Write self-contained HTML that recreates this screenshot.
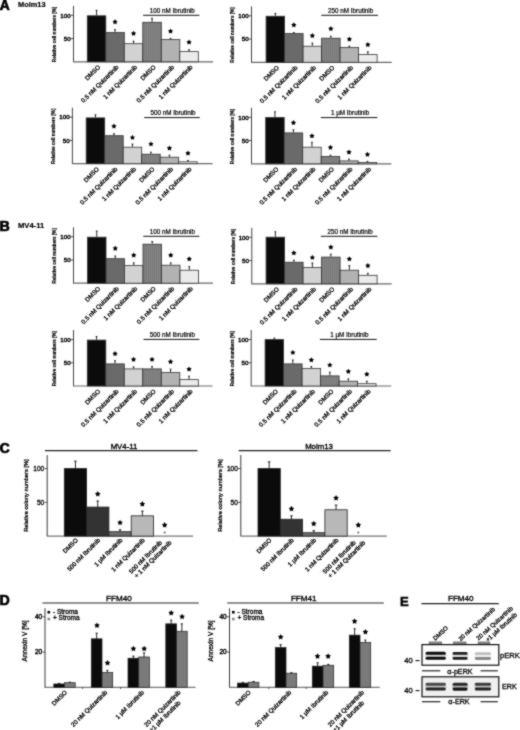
<!DOCTYPE html>
<html><head><meta charset="utf-8"><style>
html,body{margin:0;padding:0;background:#fff;}
body{width:520px;height:730px;overflow:hidden;}
svg{display:block;font-family:"Liberation Sans", sans-serif;filter:grayscale(1);}
</style></head><body>
<svg width="520" height="730" viewBox="0 0 520 730">
<defs>
<pattern id="hatch" width="2" height="3" patternUnits="userSpaceOnUse">
<rect width="3" height="3" fill="#848484"/>
<rect width="1" height="3" fill="#7a7a7a"/>
</pattern>
<filter id="soft" x="0" y="0" width="520" height="730" filterUnits="userSpaceOnUse" color-interpolation-filters="sRGB"><feConvolveMatrix order="3" kernelMatrix="1 2 1 2 12 2 1 2 1" divisor="24" edgeMode="duplicate"/></filter>
<filter id="blur1" x="-20%" y="-100%" width="140%" height="300%"><feGaussianBlur stdDeviation="0.75"/></filter>
</defs>
<rect width="520" height="730" fill="#fff"/>
<g filter="url(#soft)">
<rect width="520" height="730" fill="#fff"/>
<line x1="73.50" y1="5.80" x2="73.50" y2="61.80" stroke="#444" stroke-width="1.0"/>
<line x1="73.00" y1="61.80" x2="213.00" y2="61.80" stroke="#666" stroke-width="1.2"/>
<line x1="70.90" y1="15.30" x2="73.50" y2="15.30" stroke="#222" stroke-width="0.8"/>
<text x="70.70" y="17.50" font-size="6.2" text-anchor="end" fill="#000" stroke="#000" stroke-width="0.4">100</text>
<line x1="70.90" y1="38.55" x2="73.50" y2="38.55" stroke="#222" stroke-width="0.8"/>
<text x="70.70" y="40.75" font-size="6.2" text-anchor="end" fill="#000" stroke="#000" stroke-width="0.4">50</text>
<text x="56.50" y="34.40" font-size="5.1" text-anchor="middle" font-weight="bold" transform="rotate(-90 56.50 34.40)" fill="#000" textLength="55.5" lengthAdjust="spacingAndGlyphs" stroke="#000" stroke-width="0.2">Relative cell numbers [%]</text>
<rect x="87.30" y="15.80" width="18.50" height="46.00" fill="#0b0b0b" stroke="#333" stroke-width="0.8"/>
<rect x="105.80" y="32.50" width="18.50" height="29.30" fill="#6a6a6a" stroke="#333" stroke-width="0.8"/>
<rect x="124.30" y="43.70" width="18.50" height="18.10" fill="#d2d2d2" stroke="#333" stroke-width="0.8"/>
<rect x="142.80" y="22.30" width="18.50" height="39.50" fill="url(#hatch)" stroke="#333" stroke-width="0.8"/>
<rect x="161.30" y="39.50" width="18.50" height="22.30" fill="#b2b2b2" stroke="#333" stroke-width="0.8"/>
<rect x="179.80" y="51.60" width="18.50" height="10.20" fill="#ebebeb" stroke="#333" stroke-width="0.8"/>
<line x1="96.55" y1="15.40" x2="96.55" y2="10.30" stroke="#111" stroke-width="0.9"/>
<line x1="95.65" y1="10.30" x2="97.45" y2="10.30" stroke="#111" stroke-width="0.9"/>
<text x="100.55" y="67.60" font-size="6.2" text-anchor="end" transform="rotate(-45 100.55 67.60)" fill="#000" stroke="#000" stroke-width="0.3">DMSO</text>
<line x1="115.05" y1="32.10" x2="115.05" y2="29.60" stroke="#111" stroke-width="0.9"/>
<line x1="114.15" y1="29.60" x2="115.95" y2="29.60" stroke="#111" stroke-width="0.9"/>
<polygon points="115.05,19.10 115.92,20.70 117.71,21.03 116.46,22.36 116.70,24.17 115.05,23.38 113.40,24.17 113.64,22.36 112.39,21.03 114.18,20.70" fill="#000"/>
<text x="119.05" y="67.60" font-size="6.2" text-anchor="end" transform="rotate(-45 119.05 67.60)" fill="#000" stroke="#000" stroke-width="0.3">0.5 nM Quizartinib</text>
<line x1="133.55" y1="43.30" x2="133.55" y2="41.20" stroke="#111" stroke-width="0.9"/>
<line x1="132.65" y1="41.20" x2="134.45" y2="41.20" stroke="#111" stroke-width="0.9"/>
<polygon points="133.55,30.70 134.42,32.30 136.21,32.63 134.96,33.96 135.20,35.77 133.55,34.98 131.90,35.77 132.14,33.96 130.89,32.63 132.68,32.30" fill="#000"/>
<text x="137.55" y="67.60" font-size="6.2" text-anchor="end" transform="rotate(-45 137.55 67.60)" fill="#000" stroke="#000" stroke-width="0.3">1 nM Quizartinib</text>
<line x1="152.05" y1="21.90" x2="152.05" y2="18.30" stroke="#111" stroke-width="0.9"/>
<line x1="151.15" y1="18.30" x2="152.95" y2="18.30" stroke="#111" stroke-width="0.9"/>
<text x="156.05" y="67.60" font-size="6.2" text-anchor="end" transform="rotate(-45 156.05 67.60)" fill="#000" stroke="#000" stroke-width="0.3">DMSO</text>
<line x1="170.55" y1="39.10" x2="170.55" y2="38.50" stroke="#111" stroke-width="0.9"/>
<line x1="169.65" y1="38.50" x2="171.45" y2="38.50" stroke="#111" stroke-width="0.9"/>
<polygon points="170.55,28.50 171.42,30.10 173.21,30.43 171.96,31.76 172.20,33.57 170.55,32.78 168.90,33.57 169.14,31.76 167.89,30.43 169.68,30.10" fill="#000"/>
<text x="174.55" y="67.60" font-size="6.2" text-anchor="end" transform="rotate(-45 174.55 67.60)" fill="#000" stroke="#000" stroke-width="0.3">0.5 nM Quizartinib</text>
<line x1="189.05" y1="51.20" x2="189.05" y2="49.80" stroke="#111" stroke-width="0.9"/>
<line x1="188.15" y1="49.80" x2="189.95" y2="49.80" stroke="#111" stroke-width="0.9"/>
<polygon points="189.05,39.50 189.92,41.10 191.71,41.43 190.46,42.76 190.70,44.57 189.05,43.78 187.40,44.57 187.64,42.76 186.39,41.43 188.18,41.10" fill="#000"/>
<text x="193.05" y="67.60" font-size="6.2" text-anchor="end" transform="rotate(-45 193.05 67.60)" fill="#000" stroke="#000" stroke-width="0.3">1 nM Quizartinib</text>
<line x1="143.10" y1="15.30" x2="199.40" y2="15.30" stroke="#111" stroke-width="1.0"/>
<text x="172.25" y="13.10" font-size="6.3" text-anchor="middle" fill="#000" stroke="#000" stroke-width="0.2">100 nM Ibrutinib</text>
<line x1="251.50" y1="6.30" x2="251.50" y2="62.30" stroke="#444" stroke-width="1.0"/>
<line x1="251.00" y1="62.30" x2="391.70" y2="62.30" stroke="#666" stroke-width="1.2"/>
<line x1="248.90" y1="15.80" x2="251.50" y2="15.80" stroke="#222" stroke-width="0.8"/>
<text x="248.70" y="18.00" font-size="6.2" text-anchor="end" fill="#000" stroke="#000" stroke-width="0.4">100</text>
<line x1="248.90" y1="39.05" x2="251.50" y2="39.05" stroke="#222" stroke-width="0.8"/>
<text x="248.70" y="41.25" font-size="6.2" text-anchor="end" fill="#000" stroke="#000" stroke-width="0.4">50</text>
<text x="234.50" y="34.90" font-size="5.1" text-anchor="middle" font-weight="bold" transform="rotate(-90 234.50 34.90)" fill="#000" textLength="55.5" lengthAdjust="spacingAndGlyphs" stroke="#000" stroke-width="0.2">Relative cell numbers [%]</text>
<rect x="266.10" y="16.25" width="18.50" height="46.05" fill="#0b0b0b" stroke="#333" stroke-width="0.8"/>
<rect x="284.60" y="33.60" width="18.50" height="28.70" fill="#6a6a6a" stroke="#333" stroke-width="0.8"/>
<rect x="303.10" y="46.20" width="18.50" height="16.10" fill="#d2d2d2" stroke="#333" stroke-width="0.8"/>
<rect x="321.60" y="38.20" width="18.50" height="24.10" fill="url(#hatch)" stroke="#333" stroke-width="0.8"/>
<rect x="340.10" y="47.40" width="18.50" height="14.90" fill="#b2b2b2" stroke="#333" stroke-width="0.8"/>
<rect x="358.60" y="54.60" width="18.50" height="7.70" fill="#ebebeb" stroke="#333" stroke-width="0.8"/>
<line x1="275.35" y1="15.85" x2="275.35" y2="13.50" stroke="#111" stroke-width="0.9"/>
<line x1="274.45" y1="13.50" x2="276.25" y2="13.50" stroke="#111" stroke-width="0.9"/>
<text x="279.35" y="68.10" font-size="6.2" text-anchor="end" transform="rotate(-45 279.35 68.10)" fill="#000" stroke="#000" stroke-width="0.3">DMSO</text>
<line x1="293.85" y1="33.20" x2="293.85" y2="32.70" stroke="#111" stroke-width="0.9"/>
<line x1="292.95" y1="32.70" x2="294.75" y2="32.70" stroke="#111" stroke-width="0.9"/>
<polygon points="293.85,22.20 294.72,23.80 296.51,24.13 295.26,25.46 295.50,27.27 293.85,26.48 292.20,27.27 292.44,25.46 291.19,24.13 292.98,23.80" fill="#000"/>
<text x="297.85" y="68.10" font-size="6.2" text-anchor="end" transform="rotate(-45 297.85 68.10)" fill="#000" stroke="#000" stroke-width="0.3">0.5 nM Quizartinib</text>
<line x1="312.35" y1="45.80" x2="312.35" y2="43.10" stroke="#111" stroke-width="0.9"/>
<line x1="311.45" y1="43.10" x2="313.25" y2="43.10" stroke="#111" stroke-width="0.9"/>
<polygon points="312.35,32.90 313.22,34.50 315.01,34.83 313.76,36.16 314.00,37.97 312.35,37.18 310.70,37.97 310.94,36.16 309.69,34.83 311.48,34.50" fill="#000"/>
<text x="316.35" y="68.10" font-size="6.2" text-anchor="end" transform="rotate(-45 316.35 68.10)" fill="#000" stroke="#000" stroke-width="0.3">1 nM Quizartinib</text>
<line x1="330.85" y1="37.80" x2="330.85" y2="36.20" stroke="#111" stroke-width="0.9"/>
<line x1="329.95" y1="36.20" x2="331.75" y2="36.20" stroke="#111" stroke-width="0.9"/>
<polygon points="330.85,26.00 331.72,27.60 333.51,27.93 332.26,29.26 332.50,31.07 330.85,30.28 329.20,31.07 329.44,29.26 328.19,27.93 329.98,27.60" fill="#000"/>
<text x="334.85" y="68.10" font-size="6.2" text-anchor="end" transform="rotate(-45 334.85 68.10)" fill="#000" stroke="#000" stroke-width="0.3">DMSO</text>
<line x1="349.35" y1="47.00" x2="349.35" y2="46.10" stroke="#111" stroke-width="0.9"/>
<line x1="348.45" y1="46.10" x2="350.25" y2="46.10" stroke="#111" stroke-width="0.9"/>
<polygon points="349.35,36.40 350.22,38.00 352.01,38.33 350.76,39.66 351.00,41.47 349.35,40.68 347.70,41.47 347.94,39.66 346.69,38.33 348.48,38.00" fill="#000"/>
<text x="353.35" y="68.10" font-size="6.2" text-anchor="end" transform="rotate(-45 353.35 68.10)" fill="#000" stroke="#000" stroke-width="0.3">0.5 nM Quizartinib</text>
<line x1="367.85" y1="54.20" x2="367.85" y2="51.80" stroke="#111" stroke-width="0.9"/>
<line x1="366.95" y1="51.80" x2="368.75" y2="51.80" stroke="#111" stroke-width="0.9"/>
<polygon points="367.85,41.90 368.72,43.50 370.51,43.83 369.26,45.16 369.50,46.97 367.85,46.18 366.20,46.97 366.44,45.16 365.19,43.83 366.98,43.50" fill="#000"/>
<text x="371.85" y="68.10" font-size="6.2" text-anchor="end" transform="rotate(-45 371.85 68.10)" fill="#000" stroke="#000" stroke-width="0.3">1 nM Quizartinib</text>
<line x1="321.30" y1="15.30" x2="378.00" y2="15.30" stroke="#111" stroke-width="1.0"/>
<text x="350.65" y="13.10" font-size="6.3" text-anchor="middle" fill="#000" stroke="#000" stroke-width="0.2">250 nM Ibrutinib</text>
<line x1="72.40" y1="107.70" x2="72.40" y2="163.70" stroke="#444" stroke-width="1.0"/>
<line x1="71.90" y1="163.70" x2="212.50" y2="163.70" stroke="#666" stroke-width="1.2"/>
<line x1="69.80" y1="117.20" x2="72.40" y2="117.20" stroke="#222" stroke-width="0.8"/>
<text x="69.60" y="119.40" font-size="6.2" text-anchor="end" fill="#000" stroke="#000" stroke-width="0.4">100</text>
<line x1="69.80" y1="140.45" x2="72.40" y2="140.45" stroke="#222" stroke-width="0.8"/>
<text x="69.60" y="142.65" font-size="6.2" text-anchor="end" fill="#000" stroke="#000" stroke-width="0.4">50</text>
<text x="55.40" y="136.30" font-size="5.1" text-anchor="middle" font-weight="bold" transform="rotate(-90 55.40 136.30)" fill="#000" textLength="55.5" lengthAdjust="spacingAndGlyphs" stroke="#000" stroke-width="0.2">Relative cell numbers [%]</text>
<rect x="86.20" y="117.90" width="18.50" height="45.80" fill="#0b0b0b" stroke="#333" stroke-width="0.8"/>
<rect x="104.70" y="135.70" width="18.50" height="28.00" fill="#6a6a6a" stroke="#333" stroke-width="0.8"/>
<rect x="123.20" y="147.20" width="18.50" height="16.50" fill="#d2d2d2" stroke="#333" stroke-width="0.8"/>
<rect x="141.70" y="154.20" width="18.50" height="9.50" fill="url(#hatch)" stroke="#333" stroke-width="0.8"/>
<rect x="160.20" y="157.20" width="18.50" height="6.50" fill="#b2b2b2" stroke="#333" stroke-width="0.8"/>
<rect x="178.70" y="161.80" width="18.50" height="1.90" fill="#ebebeb" stroke="#333" stroke-width="0.8"/>
<line x1="95.45" y1="117.50" x2="95.45" y2="114.80" stroke="#111" stroke-width="0.9"/>
<line x1="94.55" y1="114.80" x2="96.35" y2="114.80" stroke="#111" stroke-width="0.9"/>
<text x="99.45" y="169.50" font-size="6.2" text-anchor="end" transform="rotate(-45 99.45 169.50)" fill="#000" stroke="#000" stroke-width="0.3">DMSO</text>
<line x1="113.95" y1="135.30" x2="113.95" y2="133.70" stroke="#111" stroke-width="0.9"/>
<line x1="113.05" y1="133.70" x2="114.85" y2="133.70" stroke="#111" stroke-width="0.9"/>
<polygon points="113.95,123.50 114.82,125.10 116.61,125.43 115.36,126.76 115.60,128.57 113.95,127.78 112.30,128.57 112.54,126.76 111.29,125.43 113.08,125.10" fill="#000"/>
<text x="117.95" y="169.50" font-size="6.2" text-anchor="end" transform="rotate(-45 117.95 169.50)" fill="#000" stroke="#000" stroke-width="0.3">0.5 nM Quizartinib</text>
<line x1="132.45" y1="146.80" x2="132.45" y2="144.10" stroke="#111" stroke-width="0.9"/>
<line x1="131.55" y1="144.10" x2="133.35" y2="144.10" stroke="#111" stroke-width="0.9"/>
<polygon points="132.45,134.80 133.32,136.40 135.11,136.73 133.86,138.06 134.10,139.87 132.45,139.08 130.80,139.87 131.04,138.06 129.79,136.73 131.58,136.40" fill="#000"/>
<text x="136.45" y="169.50" font-size="6.2" text-anchor="end" transform="rotate(-45 136.45 169.50)" fill="#000" stroke="#000" stroke-width="0.3">1 nM Quizartinib</text>
<line x1="150.95" y1="153.80" x2="150.95" y2="152.20" stroke="#111" stroke-width="0.9"/>
<line x1="150.05" y1="152.20" x2="151.85" y2="152.20" stroke="#111" stroke-width="0.9"/>
<polygon points="150.95,141.30 151.82,142.90 153.61,143.23 152.36,144.56 152.60,146.37 150.95,145.58 149.30,146.37 149.54,144.56 148.29,143.23 150.08,142.90" fill="#000"/>
<text x="154.95" y="169.50" font-size="6.2" text-anchor="end" transform="rotate(-45 154.95 169.50)" fill="#000" stroke="#000" stroke-width="0.3">DMSO</text>
<line x1="169.45" y1="156.80" x2="169.45" y2="155.20" stroke="#111" stroke-width="0.9"/>
<line x1="168.55" y1="155.20" x2="170.35" y2="155.20" stroke="#111" stroke-width="0.9"/>
<polygon points="169.45,145.40 170.32,147.00 172.11,147.33 170.86,148.66 171.10,150.47 169.45,149.68 167.80,150.47 168.04,148.66 166.79,147.33 168.58,147.00" fill="#000"/>
<text x="173.45" y="169.50" font-size="6.2" text-anchor="end" transform="rotate(-45 173.45 169.50)" fill="#000" stroke="#000" stroke-width="0.3">0.5 nM Quizartinib</text>
<line x1="187.95" y1="161.40" x2="187.95" y2="160.50" stroke="#111" stroke-width="0.9"/>
<line x1="187.05" y1="160.50" x2="188.85" y2="160.50" stroke="#111" stroke-width="0.9"/>
<polygon points="187.95,150.50 188.82,152.10 190.61,152.43 189.36,153.76 189.60,155.57 187.95,154.78 186.30,155.57 186.54,153.76 185.29,152.43 187.08,152.10" fill="#000"/>
<text x="191.95" y="169.50" font-size="6.2" text-anchor="end" transform="rotate(-45 191.95 169.50)" fill="#000" stroke="#000" stroke-width="0.3">1 nM Quizartinib</text>
<line x1="144.20" y1="117.60" x2="199.80" y2="117.60" stroke="#111" stroke-width="1.0"/>
<text x="173.00" y="115.40" font-size="6.3" text-anchor="middle" fill="#000" stroke="#000" stroke-width="0.2">500 nM Ibrutinib</text>
<line x1="251.50" y1="107.80" x2="251.50" y2="163.80" stroke="#444" stroke-width="1.0"/>
<line x1="251.00" y1="163.80" x2="391.30" y2="163.80" stroke="#666" stroke-width="1.2"/>
<line x1="248.90" y1="117.30" x2="251.50" y2="117.30" stroke="#222" stroke-width="0.8"/>
<text x="248.70" y="119.50" font-size="6.2" text-anchor="end" fill="#000" stroke="#000" stroke-width="0.4">100</text>
<line x1="248.90" y1="140.55" x2="251.50" y2="140.55" stroke="#222" stroke-width="0.8"/>
<text x="248.70" y="142.75" font-size="6.2" text-anchor="end" fill="#000" stroke="#000" stroke-width="0.4">50</text>
<text x="234.50" y="136.40" font-size="5.1" text-anchor="middle" font-weight="bold" transform="rotate(-90 234.50 136.40)" fill="#000" textLength="55.5" lengthAdjust="spacingAndGlyphs" stroke="#000" stroke-width="0.2">Relative cell numbers [%]</text>
<rect x="265.70" y="117.50" width="18.50" height="46.30" fill="#0b0b0b" stroke="#333" stroke-width="0.8"/>
<rect x="284.20" y="132.90" width="18.50" height="30.90" fill="#6a6a6a" stroke="#333" stroke-width="0.8"/>
<rect x="302.70" y="147.20" width="18.50" height="16.60" fill="#d2d2d2" stroke="#333" stroke-width="0.8"/>
<rect x="321.20" y="156.50" width="18.50" height="7.30" fill="url(#hatch)" stroke="#333" stroke-width="0.8"/>
<rect x="339.70" y="160.90" width="18.50" height="2.90" fill="#b2b2b2" stroke="#333" stroke-width="0.8"/>
<rect x="358.20" y="162.50" width="18.50" height="1.30" fill="#ebebeb" stroke="#333" stroke-width="0.8"/>
<line x1="274.95" y1="117.10" x2="274.95" y2="111.80" stroke="#111" stroke-width="0.9"/>
<line x1="274.05" y1="111.80" x2="275.85" y2="111.80" stroke="#111" stroke-width="0.9"/>
<text x="278.95" y="169.60" font-size="6.2" text-anchor="end" transform="rotate(-45 278.95 169.60)" fill="#000" stroke="#000" stroke-width="0.3">DMSO</text>
<line x1="293.45" y1="132.50" x2="293.45" y2="129.80" stroke="#111" stroke-width="0.9"/>
<line x1="292.55" y1="129.80" x2="294.35" y2="129.80" stroke="#111" stroke-width="0.9"/>
<polygon points="293.45,120.00 294.32,121.60 296.11,121.93 294.86,123.26 295.10,125.07 293.45,124.28 291.80,125.07 292.04,123.26 290.79,121.93 292.58,121.60" fill="#000"/>
<text x="297.45" y="169.60" font-size="6.2" text-anchor="end" transform="rotate(-45 297.45 169.60)" fill="#000" stroke="#000" stroke-width="0.3">0.5 nM Quizartinib</text>
<line x1="311.95" y1="146.80" x2="311.95" y2="142.20" stroke="#111" stroke-width="0.9"/>
<line x1="311.05" y1="142.20" x2="312.85" y2="142.20" stroke="#111" stroke-width="0.9"/>
<polygon points="311.95,133.20 312.82,134.80 314.61,135.13 313.36,136.46 313.60,138.27 311.95,137.48 310.30,138.27 310.54,136.46 309.29,135.13 311.08,134.80" fill="#000"/>
<text x="315.95" y="169.60" font-size="6.2" text-anchor="end" transform="rotate(-45 315.95 169.60)" fill="#000" stroke="#000" stroke-width="0.3">1 nM Quizartinib</text>
<line x1="330.45" y1="156.10" x2="330.45" y2="155.20" stroke="#111" stroke-width="0.9"/>
<line x1="329.55" y1="155.20" x2="331.35" y2="155.20" stroke="#111" stroke-width="0.9"/>
<polygon points="330.45,144.70 331.32,146.30 333.11,146.63 331.86,147.96 332.10,149.77 330.45,148.98 328.80,149.77 329.04,147.96 327.79,146.63 329.58,146.30" fill="#000"/>
<text x="334.45" y="169.60" font-size="6.2" text-anchor="end" transform="rotate(-45 334.45 169.60)" fill="#000" stroke="#000" stroke-width="0.3">DMSO</text>
<line x1="348.95" y1="160.50" x2="348.95" y2="159.10" stroke="#111" stroke-width="0.9"/>
<line x1="348.05" y1="159.10" x2="349.85" y2="159.10" stroke="#111" stroke-width="0.9"/>
<polygon points="348.95,149.40 349.82,151.00 351.61,151.33 350.36,152.66 350.60,154.47 348.95,153.68 347.30,154.47 347.54,152.66 346.29,151.33 348.08,151.00" fill="#000"/>
<text x="352.95" y="169.60" font-size="6.2" text-anchor="end" transform="rotate(-45 352.95 169.60)" fill="#000" stroke="#000" stroke-width="0.3">0.5 nM Quizartinib</text>
<line x1="367.45" y1="162.10" x2="367.45" y2="161.40" stroke="#111" stroke-width="0.9"/>
<line x1="366.55" y1="161.40" x2="368.35" y2="161.40" stroke="#111" stroke-width="0.9"/>
<polygon points="367.45,151.70 368.32,153.30 370.11,153.63 368.86,154.96 369.10,156.77 367.45,155.98 365.80,156.77 366.04,154.96 364.79,153.63 366.58,153.30" fill="#000"/>
<text x="371.45" y="169.60" font-size="6.2" text-anchor="end" transform="rotate(-45 371.45 169.60)" fill="#000" stroke="#000" stroke-width="0.3">1 nM Quizartinib</text>
<line x1="320.80" y1="117.60" x2="377.40" y2="117.60" stroke="#111" stroke-width="1.0"/>
<text x="350.10" y="115.40" font-size="6.3" text-anchor="middle" fill="#000" stroke="#000" stroke-width="0.2">1 µM Ibrutinib</text>
<line x1="73.50" y1="227.20" x2="73.50" y2="283.20" stroke="#444" stroke-width="1.0"/>
<line x1="73.00" y1="283.20" x2="213.00" y2="283.20" stroke="#666" stroke-width="1.2"/>
<line x1="70.90" y1="236.70" x2="73.50" y2="236.70" stroke="#222" stroke-width="0.8"/>
<text x="70.70" y="238.90" font-size="6.2" text-anchor="end" fill="#000" stroke="#000" stroke-width="0.4">100</text>
<line x1="70.90" y1="259.95" x2="73.50" y2="259.95" stroke="#222" stroke-width="0.8"/>
<text x="70.70" y="262.15" font-size="6.2" text-anchor="end" fill="#000" stroke="#000" stroke-width="0.4">50</text>
<text x="56.50" y="255.80" font-size="5.1" text-anchor="middle" font-weight="bold" transform="rotate(-90 56.50 255.80)" fill="#000" textLength="55.5" lengthAdjust="spacingAndGlyphs" stroke="#000" stroke-width="0.2">Relative cell numbers [%]</text>
<rect x="87.50" y="237.20" width="18.50" height="46.00" fill="#0b0b0b" stroke="#333" stroke-width="0.8"/>
<rect x="106.00" y="258.70" width="18.50" height="24.50" fill="#6a6a6a" stroke="#333" stroke-width="0.8"/>
<rect x="124.50" y="265.60" width="18.50" height="17.60" fill="#d2d2d2" stroke="#333" stroke-width="0.8"/>
<rect x="143.00" y="244.20" width="18.50" height="39.00" fill="url(#hatch)" stroke="#333" stroke-width="0.8"/>
<rect x="161.50" y="265.20" width="18.50" height="18.00" fill="#b2b2b2" stroke="#333" stroke-width="0.8"/>
<rect x="180.00" y="270.20" width="18.50" height="13.00" fill="#ebebeb" stroke="#333" stroke-width="0.8"/>
<line x1="96.75" y1="236.80" x2="96.75" y2="231.10" stroke="#111" stroke-width="0.9"/>
<line x1="95.85" y1="231.10" x2="97.65" y2="231.10" stroke="#111" stroke-width="0.9"/>
<text x="100.75" y="289.00" font-size="6.2" text-anchor="end" transform="rotate(-45 100.75 289.00)" fill="#000" stroke="#000" stroke-width="0.3">DMSO</text>
<line x1="115.25" y1="258.30" x2="115.25" y2="256.00" stroke="#111" stroke-width="0.9"/>
<line x1="114.35" y1="256.00" x2="116.15" y2="256.00" stroke="#111" stroke-width="0.9"/>
<polygon points="115.25,245.60 116.12,247.20 117.91,247.53 116.66,248.86 116.90,250.67 115.25,249.88 113.60,250.67 113.84,248.86 112.59,247.53 114.38,247.20" fill="#000"/>
<text x="119.25" y="289.00" font-size="6.2" text-anchor="end" transform="rotate(-45 119.25 289.00)" fill="#000" stroke="#000" stroke-width="0.3">0.5 nM Quizartinib</text>
<line x1="133.75" y1="265.20" x2="133.75" y2="262.90" stroke="#111" stroke-width="0.9"/>
<line x1="132.85" y1="262.90" x2="134.65" y2="262.90" stroke="#111" stroke-width="0.9"/>
<polygon points="133.75,252.50 134.62,254.10 136.41,254.43 135.16,255.76 135.40,257.57 133.75,256.78 132.10,257.57 132.34,255.76 131.09,254.43 132.88,254.10" fill="#000"/>
<text x="137.75" y="289.00" font-size="6.2" text-anchor="end" transform="rotate(-45 137.75 289.00)" fill="#000" stroke="#000" stroke-width="0.3">1 nM Quizartinib</text>
<line x1="152.25" y1="243.80" x2="152.25" y2="241.50" stroke="#111" stroke-width="0.9"/>
<line x1="151.35" y1="241.50" x2="153.15" y2="241.50" stroke="#111" stroke-width="0.9"/>
<text x="156.25" y="289.00" font-size="6.2" text-anchor="end" transform="rotate(-45 156.25 289.00)" fill="#000" stroke="#000" stroke-width="0.3">DMSO</text>
<line x1="170.75" y1="264.80" x2="170.75" y2="262.90" stroke="#111" stroke-width="0.9"/>
<line x1="169.85" y1="262.90" x2="171.65" y2="262.90" stroke="#111" stroke-width="0.9"/>
<polygon points="170.75,252.50 171.62,254.10 173.41,254.43 172.16,255.76 172.40,257.57 170.75,256.78 169.10,257.57 169.34,255.76 168.09,254.43 169.88,254.10" fill="#000"/>
<text x="174.75" y="289.00" font-size="6.2" text-anchor="end" transform="rotate(-45 174.75 289.00)" fill="#000" stroke="#000" stroke-width="0.3">0.5 nM Quizartinib</text>
<line x1="189.25" y1="269.80" x2="189.25" y2="266.60" stroke="#111" stroke-width="0.9"/>
<line x1="188.35" y1="266.60" x2="190.15" y2="266.60" stroke="#111" stroke-width="0.9"/>
<polygon points="189.25,256.20 190.12,257.80 191.91,258.13 190.66,259.46 190.90,261.27 189.25,260.48 187.60,261.27 187.84,259.46 186.59,258.13 188.38,257.80" fill="#000"/>
<text x="193.25" y="289.00" font-size="6.2" text-anchor="end" transform="rotate(-45 193.25 289.00)" fill="#000" stroke="#000" stroke-width="0.3">1 nM Quizartinib</text>
<line x1="143.30" y1="236.30" x2="199.40" y2="236.30" stroke="#111" stroke-width="1.0"/>
<text x="172.35" y="234.10" font-size="6.3" text-anchor="middle" fill="#000" stroke="#000" stroke-width="0.2">100 nM Ibrutinib</text>
<line x1="251.80" y1="227.80" x2="251.80" y2="283.80" stroke="#444" stroke-width="1.0"/>
<line x1="251.30" y1="283.80" x2="391.70" y2="283.80" stroke="#666" stroke-width="1.2"/>
<line x1="249.20" y1="237.30" x2="251.80" y2="237.30" stroke="#222" stroke-width="0.8"/>
<text x="249.00" y="239.50" font-size="6.2" text-anchor="end" fill="#000" stroke="#000" stroke-width="0.4">100</text>
<line x1="249.20" y1="260.55" x2="251.80" y2="260.55" stroke="#222" stroke-width="0.8"/>
<text x="249.00" y="262.75" font-size="6.2" text-anchor="end" fill="#000" stroke="#000" stroke-width="0.4">50</text>
<text x="234.80" y="256.40" font-size="5.1" text-anchor="middle" font-weight="bold" transform="rotate(-90 234.80 256.40)" fill="#000" textLength="55.5" lengthAdjust="spacingAndGlyphs" stroke="#000" stroke-width="0.2">Relative cell numbers [%]</text>
<rect x="266.10" y="237.20" width="18.50" height="46.60" fill="#0b0b0b" stroke="#333" stroke-width="0.8"/>
<rect x="284.60" y="262.20" width="18.50" height="21.60" fill="#6a6a6a" stroke="#333" stroke-width="0.8"/>
<rect x="303.10" y="267.50" width="18.50" height="16.30" fill="#d2d2d2" stroke="#333" stroke-width="0.8"/>
<rect x="321.60" y="257.10" width="18.50" height="26.70" fill="url(#hatch)" stroke="#333" stroke-width="0.8"/>
<rect x="340.10" y="270.20" width="18.50" height="13.60" fill="#b2b2b2" stroke="#333" stroke-width="0.8"/>
<rect x="358.60" y="275.30" width="18.50" height="8.50" fill="#ebebeb" stroke="#333" stroke-width="0.8"/>
<line x1="275.35" y1="236.80" x2="275.35" y2="231.80" stroke="#111" stroke-width="0.9"/>
<line x1="274.45" y1="231.80" x2="276.25" y2="231.80" stroke="#111" stroke-width="0.9"/>
<text x="279.35" y="289.60" font-size="6.2" text-anchor="end" transform="rotate(-45 279.35 289.60)" fill="#000" stroke="#000" stroke-width="0.3">DMSO</text>
<line x1="293.85" y1="261.80" x2="293.85" y2="260.20" stroke="#111" stroke-width="0.9"/>
<line x1="292.95" y1="260.20" x2="294.75" y2="260.20" stroke="#111" stroke-width="0.9"/>
<polygon points="293.85,250.20 294.72,251.80 296.51,252.13 295.26,253.46 295.50,255.27 293.85,254.48 292.20,255.27 292.44,253.46 291.19,252.13 292.98,251.80" fill="#000"/>
<text x="297.85" y="289.60" font-size="6.2" text-anchor="end" transform="rotate(-45 297.85 289.60)" fill="#000" stroke="#000" stroke-width="0.3">0.5 nM Quizartinib</text>
<line x1="312.35" y1="267.10" x2="312.35" y2="262.90" stroke="#111" stroke-width="0.9"/>
<line x1="311.45" y1="262.90" x2="313.25" y2="262.90" stroke="#111" stroke-width="0.9"/>
<polygon points="312.35,254.80 313.22,256.40 315.01,256.73 313.76,258.06 314.00,259.87 312.35,259.08 310.70,259.87 310.94,258.06 309.69,256.73 311.48,256.40" fill="#000"/>
<text x="316.35" y="289.60" font-size="6.2" text-anchor="end" transform="rotate(-45 316.35 289.60)" fill="#000" stroke="#000" stroke-width="0.3">1 nM Quizartinib</text>
<line x1="330.85" y1="256.70" x2="330.85" y2="254.20" stroke="#111" stroke-width="0.9"/>
<line x1="329.95" y1="254.20" x2="331.75" y2="254.20" stroke="#111" stroke-width="0.9"/>
<polygon points="330.85,244.40 331.72,246.00 333.51,246.33 332.26,247.66 332.50,249.47 330.85,248.68 329.20,249.47 329.44,247.66 328.19,246.33 329.98,246.00" fill="#000"/>
<text x="334.85" y="289.60" font-size="6.2" text-anchor="end" transform="rotate(-45 334.85 289.60)" fill="#000" stroke="#000" stroke-width="0.3">DMSO</text>
<line x1="349.35" y1="269.80" x2="349.35" y2="265.70" stroke="#111" stroke-width="0.9"/>
<line x1="348.45" y1="265.70" x2="350.25" y2="265.70" stroke="#111" stroke-width="0.9"/>
<polygon points="349.35,256.20 350.22,257.80 352.01,258.13 350.76,259.46 351.00,261.27 349.35,260.48 347.70,261.27 347.94,259.46 346.69,258.13 348.48,257.80" fill="#000"/>
<text x="353.35" y="289.60" font-size="6.2" text-anchor="end" transform="rotate(-45 353.35 289.60)" fill="#000" stroke="#000" stroke-width="0.3">0.5 nM Quizartinib</text>
<line x1="367.85" y1="274.90" x2="367.85" y2="273.30" stroke="#111" stroke-width="0.9"/>
<line x1="366.95" y1="273.30" x2="368.75" y2="273.30" stroke="#111" stroke-width="0.9"/>
<polygon points="367.85,262.90 368.72,264.50 370.51,264.83 369.26,266.16 369.50,267.97 367.85,267.18 366.20,267.97 366.44,266.16 365.19,264.83 366.98,264.50" fill="#000"/>
<text x="371.85" y="289.60" font-size="6.2" text-anchor="end" transform="rotate(-45 371.85 289.60)" fill="#000" stroke="#000" stroke-width="0.3">1 nM Quizartinib</text>
<line x1="320.80" y1="236.30" x2="377.40" y2="236.30" stroke="#111" stroke-width="1.0"/>
<text x="350.10" y="234.10" font-size="6.3" text-anchor="middle" fill="#000" stroke="#000" stroke-width="0.2">250 nM Ibrutinib</text>
<line x1="73.50" y1="330.00" x2="73.50" y2="386.00" stroke="#444" stroke-width="1.0"/>
<line x1="73.00" y1="386.00" x2="212.50" y2="386.00" stroke="#666" stroke-width="1.2"/>
<line x1="70.90" y1="339.50" x2="73.50" y2="339.50" stroke="#222" stroke-width="0.8"/>
<text x="70.70" y="341.70" font-size="6.2" text-anchor="end" fill="#000" stroke="#000" stroke-width="0.4">100</text>
<line x1="70.90" y1="362.75" x2="73.50" y2="362.75" stroke="#222" stroke-width="0.8"/>
<text x="70.70" y="364.95" font-size="6.2" text-anchor="end" fill="#000" stroke="#000" stroke-width="0.4">50</text>
<text x="56.50" y="358.60" font-size="5.1" text-anchor="middle" font-weight="bold" transform="rotate(-90 56.50 358.60)" fill="#000" textLength="55.5" lengthAdjust="spacingAndGlyphs" stroke="#000" stroke-width="0.2">Relative cell numbers [%]</text>
<rect x="87.30" y="340.10" width="18.50" height="45.90" fill="#0b0b0b" stroke="#333" stroke-width="0.8"/>
<rect x="105.80" y="363.90" width="18.50" height="22.10" fill="#6a6a6a" stroke="#333" stroke-width="0.8"/>
<rect x="124.30" y="368.90" width="18.50" height="17.10" fill="#d2d2d2" stroke="#333" stroke-width="0.8"/>
<rect x="142.80" y="368.90" width="18.50" height="17.10" fill="url(#hatch)" stroke="#333" stroke-width="0.8"/>
<rect x="161.30" y="372.60" width="18.50" height="13.40" fill="#b2b2b2" stroke="#333" stroke-width="0.8"/>
<rect x="179.80" y="379.60" width="18.50" height="6.40" fill="#ebebeb" stroke="#333" stroke-width="0.8"/>
<line x1="96.55" y1="339.70" x2="96.55" y2="336.50" stroke="#111" stroke-width="0.9"/>
<line x1="95.65" y1="336.50" x2="97.45" y2="336.50" stroke="#111" stroke-width="0.9"/>
<text x="100.55" y="391.80" font-size="6.2" text-anchor="end" transform="rotate(-45 100.55 391.80)" fill="#000" stroke="#000" stroke-width="0.3">DMSO</text>
<line x1="115.05" y1="363.50" x2="115.05" y2="360.70" stroke="#111" stroke-width="0.9"/>
<line x1="114.15" y1="360.70" x2="115.95" y2="360.70" stroke="#111" stroke-width="0.9"/>
<polygon points="115.05,351.00 115.92,352.60 117.71,352.93 116.46,354.26 116.70,356.07 115.05,355.28 113.40,356.07 113.64,354.26 112.39,352.93 114.18,352.60" fill="#000"/>
<text x="119.05" y="391.80" font-size="6.2" text-anchor="end" transform="rotate(-45 119.05 391.80)" fill="#000" stroke="#000" stroke-width="0.3">0.5 nM Quizartinib</text>
<line x1="133.55" y1="368.50" x2="133.55" y2="366.90" stroke="#111" stroke-width="0.9"/>
<line x1="132.65" y1="366.90" x2="134.45" y2="366.90" stroke="#111" stroke-width="0.9"/>
<polygon points="133.55,356.70 134.42,358.30 136.21,358.63 134.96,359.96 135.20,361.77 133.55,360.98 131.90,361.77 132.14,359.96 130.89,358.63 132.68,358.30" fill="#000"/>
<text x="137.55" y="391.80" font-size="6.2" text-anchor="end" transform="rotate(-45 137.55 391.80)" fill="#000" stroke="#000" stroke-width="0.3">1 nM Quizartinib</text>
<line x1="152.05" y1="368.50" x2="152.05" y2="366.50" stroke="#111" stroke-width="0.9"/>
<line x1="151.15" y1="366.50" x2="152.95" y2="366.50" stroke="#111" stroke-width="0.9"/>
<polygon points="152.05,356.70 152.92,358.30 154.71,358.63 153.46,359.96 153.70,361.77 152.05,360.98 150.40,361.77 150.64,359.96 149.39,358.63 151.18,358.30" fill="#000"/>
<text x="156.05" y="391.80" font-size="6.2" text-anchor="end" transform="rotate(-45 156.05 391.80)" fill="#000" stroke="#000" stroke-width="0.3">DMSO</text>
<line x1="170.55" y1="372.20" x2="170.55" y2="369.20" stroke="#111" stroke-width="0.9"/>
<line x1="169.65" y1="369.20" x2="171.45" y2="369.20" stroke="#111" stroke-width="0.9"/>
<polygon points="170.55,359.00 171.42,360.60 173.21,360.93 171.96,362.26 172.20,364.07 170.55,363.28 168.90,364.07 169.14,362.26 167.89,360.93 169.68,360.60" fill="#000"/>
<text x="174.55" y="391.80" font-size="6.2" text-anchor="end" transform="rotate(-45 174.55 391.80)" fill="#000" stroke="#000" stroke-width="0.3">0.5 nM Quizartinib</text>
<line x1="189.05" y1="379.20" x2="189.05" y2="376.20" stroke="#111" stroke-width="0.9"/>
<line x1="188.15" y1="376.20" x2="189.95" y2="376.20" stroke="#111" stroke-width="0.9"/>
<polygon points="189.05,366.40 189.92,368.00 191.71,368.33 190.46,369.66 190.70,371.47 189.05,370.68 187.40,371.47 187.64,369.66 186.39,368.33 188.18,368.00" fill="#000"/>
<text x="193.05" y="391.80" font-size="6.2" text-anchor="end" transform="rotate(-45 193.05 391.80)" fill="#000" stroke="#000" stroke-width="0.3">1 nM Quizartinib</text>
<line x1="143.50" y1="339.40" x2="199.40" y2="339.40" stroke="#111" stroke-width="1.0"/>
<text x="172.45" y="337.20" font-size="6.3" text-anchor="middle" fill="#000" stroke="#000" stroke-width="0.2">500 nM Ibrutinib</text>
<line x1="251.20" y1="330.00" x2="251.20" y2="386.00" stroke="#444" stroke-width="1.0"/>
<line x1="250.70" y1="386.00" x2="391.30" y2="386.00" stroke="#666" stroke-width="1.2"/>
<line x1="248.60" y1="339.50" x2="251.20" y2="339.50" stroke="#222" stroke-width="0.8"/>
<text x="248.40" y="341.70" font-size="6.2" text-anchor="end" fill="#000" stroke="#000" stroke-width="0.4">100</text>
<line x1="248.60" y1="362.75" x2="251.20" y2="362.75" stroke="#222" stroke-width="0.8"/>
<text x="248.40" y="364.95" font-size="6.2" text-anchor="end" fill="#000" stroke="#000" stroke-width="0.4">50</text>
<text x="234.20" y="358.60" font-size="5.1" text-anchor="middle" font-weight="bold" transform="rotate(-90 234.20 358.60)" fill="#000" textLength="55.5" lengthAdjust="spacingAndGlyphs" stroke="#000" stroke-width="0.2">Relative cell numbers [%]</text>
<rect x="265.10" y="339.60" width="18.50" height="46.40" fill="#0b0b0b" stroke="#333" stroke-width="0.8"/>
<rect x="283.60" y="363.90" width="18.50" height="22.10" fill="#6a6a6a" stroke="#333" stroke-width="0.8"/>
<rect x="302.10" y="368.50" width="18.50" height="17.50" fill="#d2d2d2" stroke="#333" stroke-width="0.8"/>
<rect x="320.60" y="375.90" width="18.50" height="10.10" fill="url(#hatch)" stroke="#333" stroke-width="0.8"/>
<rect x="339.10" y="381.20" width="18.50" height="4.80" fill="#b2b2b2" stroke="#333" stroke-width="0.8"/>
<rect x="357.60" y="383.70" width="18.50" height="2.30" fill="#ebebeb" stroke="#333" stroke-width="0.8"/>
<line x1="274.35" y1="339.20" x2="274.35" y2="338.10" stroke="#111" stroke-width="0.9"/>
<line x1="273.45" y1="338.10" x2="275.25" y2="338.10" stroke="#111" stroke-width="0.9"/>
<text x="278.35" y="391.80" font-size="6.2" text-anchor="end" transform="rotate(-45 278.35 391.80)" fill="#000" stroke="#000" stroke-width="0.3">DMSO</text>
<line x1="292.85" y1="363.50" x2="292.85" y2="360.00" stroke="#111" stroke-width="0.9"/>
<line x1="291.95" y1="360.00" x2="293.75" y2="360.00" stroke="#111" stroke-width="0.9"/>
<polygon points="292.85,349.80 293.72,351.40 295.51,351.73 294.26,353.06 294.50,354.87 292.85,354.08 291.20,354.87 291.44,353.06 290.19,351.73 291.98,351.40" fill="#000"/>
<text x="296.85" y="391.80" font-size="6.2" text-anchor="end" transform="rotate(-45 296.85 391.80)" fill="#000" stroke="#000" stroke-width="0.3">0.5 nM Quizartinib</text>
<line x1="311.35" y1="368.10" x2="311.35" y2="366.50" stroke="#111" stroke-width="0.9"/>
<line x1="310.45" y1="366.50" x2="312.25" y2="366.50" stroke="#111" stroke-width="0.9"/>
<polygon points="311.35,357.20 312.22,358.80 314.01,359.13 312.76,360.46 313.00,362.27 311.35,361.48 309.70,362.27 309.94,360.46 308.69,359.13 310.48,358.80" fill="#000"/>
<text x="315.35" y="391.80" font-size="6.2" text-anchor="end" transform="rotate(-45 315.35 391.80)" fill="#000" stroke="#000" stroke-width="0.3">1 nM Quizartinib</text>
<line x1="329.85" y1="375.50" x2="329.85" y2="372.20" stroke="#111" stroke-width="0.9"/>
<line x1="328.95" y1="372.20" x2="330.75" y2="372.20" stroke="#111" stroke-width="0.9"/>
<polygon points="329.85,362.30 330.72,363.90 332.51,364.23 331.26,365.56 331.50,367.37 329.85,366.58 328.20,367.37 328.44,365.56 327.19,364.23 328.98,363.90" fill="#000"/>
<text x="333.85" y="391.80" font-size="6.2" text-anchor="end" transform="rotate(-45 333.85 391.80)" fill="#000" stroke="#000" stroke-width="0.3">DMSO</text>
<line x1="348.35" y1="380.80" x2="348.35" y2="378.90" stroke="#111" stroke-width="0.9"/>
<line x1="347.45" y1="378.90" x2="349.25" y2="378.90" stroke="#111" stroke-width="0.9"/>
<polygon points="348.35,368.70 349.22,370.30 351.01,370.63 349.76,371.96 350.00,373.77 348.35,372.98 346.70,373.77 346.94,371.96 345.69,370.63 347.48,370.30" fill="#000"/>
<text x="352.35" y="391.80" font-size="6.2" text-anchor="end" transform="rotate(-45 352.35 391.80)" fill="#000" stroke="#000" stroke-width="0.3">0.5 nM Quizartinib</text>
<line x1="366.85" y1="383.30" x2="366.85" y2="381.20" stroke="#111" stroke-width="0.9"/>
<line x1="365.95" y1="381.20" x2="367.75" y2="381.20" stroke="#111" stroke-width="0.9"/>
<polygon points="366.85,371.50 367.72,373.10 369.51,373.43 368.26,374.76 368.50,376.57 366.85,375.78 365.20,376.57 365.44,374.76 364.19,373.43 365.98,373.10" fill="#000"/>
<text x="370.85" y="391.80" font-size="6.2" text-anchor="end" transform="rotate(-45 370.85 391.80)" fill="#000" stroke="#000" stroke-width="0.3">1 nM Quizartinib</text>
<line x1="319.90" y1="339.40" x2="376.70" y2="339.40" stroke="#111" stroke-width="1.0"/>
<text x="349.30" y="337.20" font-size="6.3" text-anchor="middle" fill="#000" stroke="#000" stroke-width="0.2">1 µM Ibrutinib</text>
<text x="-0.30" y="9.60" font-size="13.8" text-anchor="start" font-weight="bold" fill="#000" stroke="#000" stroke-width="0.7">A</text>
<text x="18.00" y="6.50" font-size="7.4" text-anchor="start" font-weight="bold" fill="#000" stroke="#000" stroke-width="0.2">Molm13</text>
<text x="-0.30" y="231.00" font-size="13.8" text-anchor="start" font-weight="bold" fill="#000" stroke="#000" stroke-width="0.7">B</text>
<text x="18.00" y="227.70" font-size="7.6" text-anchor="start" font-weight="bold" fill="#000" stroke="#000" stroke-width="0.2">MV4-11</text>
<line x1="47.20" y1="455.10" x2="47.20" y2="536.10" stroke="#222" stroke-width="0.9"/>
<line x1="46.80" y1="536.10" x2="193.20" y2="536.10" stroke="#555" stroke-width="1.0"/>
<line x1="44.60" y1="468.60" x2="47.20" y2="468.60" stroke="#222" stroke-width="0.8"/>
<text x="44.30" y="470.90" font-size="6.6" text-anchor="end" fill="#000" stroke="#000" stroke-width="0.3">100</text>
<line x1="44.60" y1="502.35" x2="47.20" y2="502.35" stroke="#222" stroke-width="0.8"/>
<text x="44.30" y="504.65" font-size="6.6" text-anchor="end" fill="#000" stroke="#000" stroke-width="0.3">50</text>
<text x="28.50" y="495.60" font-size="6.1" text-anchor="middle" transform="rotate(-90 28.50 495.60)" fill="#000" stroke="#000" stroke-width="0.3" textLength="72.5" lengthAdjust="spacingAndGlyphs">Relative colony numbers [%]</text>
<rect x="64.30" y="468.60" width="22.30" height="67.50" fill="#0b0b0b" stroke="#222" stroke-width="0.8"/>
<rect x="86.60" y="507.08" width="22.30" height="29.02" fill="#333333" stroke="#222" stroke-width="0.8"/>
<rect x="108.90" y="531.71" width="22.30" height="4.39" fill="#6c6c6c" stroke="#222" stroke-width="0.8"/>
<rect x="131.20" y="515.85" width="22.30" height="20.25" fill="#b8b8b8" stroke="#222" stroke-width="0.8"/>
<line x1="75.45" y1="468.60" x2="75.45" y2="461.18" stroke="#111" stroke-width="0.9"/>
<line x1="74.15" y1="461.18" x2="76.75" y2="461.18" stroke="#111" stroke-width="0.9"/>
<text x="78.25" y="540.70" font-size="6.1" text-anchor="end" transform="rotate(-45 78.25 540.70)" fill="#000" stroke="#000" stroke-width="0.3">DMSO</text>
<line x1="97.75" y1="507.08" x2="97.75" y2="501.00" stroke="#111" stroke-width="0.9"/>
<line x1="96.45" y1="501.00" x2="99.05" y2="501.00" stroke="#111" stroke-width="0.9"/>
<polygon points="97.75,491.00 98.68,492.71 100.60,493.07 99.26,494.49 99.51,496.43 97.75,495.59 95.99,496.43 96.24,494.49 94.90,493.07 96.82,492.71" fill="#000"/>
<text x="100.55" y="540.70" font-size="6.1" text-anchor="end" transform="rotate(-45 100.55 540.70)" fill="#000" stroke="#000" stroke-width="0.3">500 nM Ibrutinib</text>
<line x1="120.05" y1="531.71" x2="120.05" y2="529.69" stroke="#111" stroke-width="0.9"/>
<line x1="118.75" y1="529.69" x2="121.35" y2="529.69" stroke="#111" stroke-width="0.9"/>
<polygon points="120.05,519.69 120.98,521.40 122.90,521.76 121.56,523.18 121.81,525.11 120.05,524.28 118.29,525.11 118.54,523.18 117.20,521.76 119.12,521.40" fill="#000"/>
<text x="122.85" y="540.70" font-size="6.1" text-anchor="end" transform="rotate(-45 122.85 540.70)" fill="#000" stroke="#000" stroke-width="0.3">1 µM Ibrutinib</text>
<line x1="142.35" y1="515.85" x2="142.35" y2="511.12" stroke="#111" stroke-width="0.9"/>
<line x1="141.05" y1="511.12" x2="143.65" y2="511.12" stroke="#111" stroke-width="0.9"/>
<polygon points="142.35,501.12 143.28,502.84 145.20,503.20 143.86,504.62 144.11,506.55 142.35,505.71 140.59,506.55 140.84,504.62 139.50,503.20 141.42,502.84" fill="#000"/>
<text x="145.15" y="540.70" font-size="6.1" text-anchor="end" transform="rotate(-45 145.15 540.70)" fill="#000" stroke="#000" stroke-width="0.3">1 nM Quizartinib</text>
<rect x="163.85" y="531.70" width="1.60" height="1.60" fill="#444"/>
<polygon points="164.65,522.10 165.58,523.81 167.50,524.17 166.16,525.59 166.41,527.53 164.65,526.69 162.89,527.53 163.14,525.59 161.80,524.17 163.72,523.81" fill="#000"/>
<text x="162.45" y="543.00" font-size="6.1" text-anchor="end" transform="rotate(-45 162.45 543.00)" fill="#000" stroke="#000" stroke-width="0.3">500 nM Ibrutinib</text>
<text x="171.95" y="543.20" font-size="6.1" text-anchor="end" transform="rotate(-45 171.95 543.20)" fill="#000" stroke="#000" stroke-width="0.3">+ 1 nM Quizartinib</text>
<line x1="45.00" y1="450.70" x2="197.50" y2="450.70" stroke="#222" stroke-width="1.2"/>
<text x="124.00" y="448.60" font-size="7.8" text-anchor="middle" fill="#000" stroke="#000" stroke-width="0.35">MV4-11</text>
<line x1="240.80" y1="455.10" x2="240.80" y2="536.10" stroke="#222" stroke-width="0.9"/>
<line x1="240.40" y1="536.10" x2="386.90" y2="536.10" stroke="#555" stroke-width="1.0"/>
<line x1="238.20" y1="468.60" x2="240.80" y2="468.60" stroke="#222" stroke-width="0.8"/>
<text x="237.90" y="470.90" font-size="6.6" text-anchor="end" fill="#000" stroke="#000" stroke-width="0.3">100</text>
<line x1="238.20" y1="502.35" x2="240.80" y2="502.35" stroke="#222" stroke-width="0.8"/>
<text x="237.90" y="504.65" font-size="6.6" text-anchor="end" fill="#000" stroke="#000" stroke-width="0.3">50</text>
<text x="222.10" y="495.60" font-size="6.1" text-anchor="middle" transform="rotate(-90 222.10 495.60)" fill="#000" stroke="#000" stroke-width="0.3" textLength="72.5" lengthAdjust="spacingAndGlyphs">Relative colony numbers [%]</text>
<rect x="258.00" y="468.60" width="22.30" height="67.50" fill="#0b0b0b" stroke="#222" stroke-width="0.8"/>
<rect x="280.30" y="519.23" width="22.30" height="16.88" fill="#333333" stroke="#222" stroke-width="0.8"/>
<rect x="302.60" y="532.73" width="22.30" height="3.38" fill="#6c6c6c" stroke="#222" stroke-width="0.8"/>
<rect x="324.90" y="509.78" width="22.30" height="26.32" fill="#b8b8b8" stroke="#222" stroke-width="0.8"/>
<line x1="269.15" y1="468.60" x2="269.15" y2="461.85" stroke="#111" stroke-width="0.9"/>
<line x1="267.85" y1="461.85" x2="270.45" y2="461.85" stroke="#111" stroke-width="0.9"/>
<text x="271.95" y="540.70" font-size="6.1" text-anchor="end" transform="rotate(-45 271.95 540.70)" fill="#000" stroke="#000" stroke-width="0.3">DMSO</text>
<line x1="291.45" y1="519.23" x2="291.45" y2="515.85" stroke="#111" stroke-width="0.9"/>
<line x1="290.15" y1="515.85" x2="292.75" y2="515.85" stroke="#111" stroke-width="0.9"/>
<polygon points="291.45,505.85 292.38,507.56 294.30,507.92 292.96,509.34 293.21,511.28 291.45,510.44 289.69,511.28 289.94,509.34 288.60,507.92 290.52,507.56" fill="#000"/>
<text x="294.25" y="540.70" font-size="6.1" text-anchor="end" transform="rotate(-45 294.25 540.70)" fill="#000" stroke="#000" stroke-width="0.3">500 nM Ibrutinib</text>
<line x1="313.75" y1="532.73" x2="313.75" y2="530.70" stroke="#111" stroke-width="0.9"/>
<line x1="312.45" y1="530.70" x2="315.05" y2="530.70" stroke="#111" stroke-width="0.9"/>
<polygon points="313.75,520.70 314.68,522.41 316.60,522.77 315.26,524.19 315.51,526.13 313.75,525.29 311.99,526.13 312.24,524.19 310.90,522.77 312.82,522.41" fill="#000"/>
<text x="316.55" y="540.70" font-size="6.1" text-anchor="end" transform="rotate(-45 316.55 540.70)" fill="#000" stroke="#000" stroke-width="0.3">1 µM Ibrutinib</text>
<line x1="336.05" y1="509.78" x2="336.05" y2="505.05" stroke="#111" stroke-width="0.9"/>
<line x1="334.75" y1="505.05" x2="337.35" y2="505.05" stroke="#111" stroke-width="0.9"/>
<polygon points="336.05,495.05 336.98,496.76 338.90,497.12 337.56,498.54 337.81,500.48 336.05,499.64 334.29,500.48 334.54,498.54 333.20,497.12 335.12,496.76" fill="#000"/>
<text x="338.85" y="540.70" font-size="6.1" text-anchor="end" transform="rotate(-45 338.85 540.70)" fill="#000" stroke="#000" stroke-width="0.3">1 nM Quizartinib</text>
<rect x="357.55" y="531.70" width="1.60" height="1.60" fill="#444"/>
<polygon points="358.35,522.10 359.28,523.81 361.20,524.17 359.86,525.59 360.11,527.53 358.35,526.69 356.59,527.53 356.84,525.59 355.50,524.17 357.42,523.81" fill="#000"/>
<text x="356.15" y="543.00" font-size="6.1" text-anchor="end" transform="rotate(-45 356.15 543.00)" fill="#000" stroke="#000" stroke-width="0.3">500 nM Ibrutinib</text>
<text x="365.65" y="543.20" font-size="6.1" text-anchor="end" transform="rotate(-45 365.65 543.20)" fill="#000" stroke="#000" stroke-width="0.3">+ 1 nM Quizartinib</text>
<line x1="238.70" y1="450.70" x2="390.70" y2="450.70" stroke="#222" stroke-width="1.2"/>
<text x="319.00" y="448.60" font-size="7.8" text-anchor="middle" fill="#000" stroke="#000" stroke-width="0.35">Molm13</text>
<text x="-0.30" y="452.80" font-size="13.8" text-anchor="start" font-weight="bold" fill="#000" stroke="#000" stroke-width="0.7">C</text>
<line x1="45.00" y1="608.30" x2="45.00" y2="687.30" stroke="#222" stroke-width="0.9"/>
<line x1="44.60" y1="687.30" x2="195.50" y2="687.30" stroke="#555" stroke-width="1.0"/>
<line x1="42.40" y1="616.80" x2="45.00" y2="616.80" stroke="#222" stroke-width="0.8"/>
<text x="42.20" y="619.10" font-size="6.5" text-anchor="end" fill="#000" stroke="#000" stroke-width="0.4">40</text>
<line x1="42.40" y1="652.05" x2="45.00" y2="652.05" stroke="#222" stroke-width="0.8"/>
<text x="42.20" y="654.35" font-size="6.5" text-anchor="end" fill="#000" stroke="#000" stroke-width="0.4">20</text>
<text x="27.20" y="640.90" font-size="6.5" text-anchor="middle" transform="rotate(-90 27.20 640.90)" fill="#000" stroke="#000" stroke-width="0.3" textLength="41" lengthAdjust="spacingAndGlyphs">Annexin V [%]</text>
<line x1="82.50" y1="687.30" x2="82.50" y2="689.10" stroke="#333" stroke-width="0.8"/>
<line x1="120.50" y1="687.30" x2="120.50" y2="689.10" stroke="#333" stroke-width="0.8"/>
<rect x="53.80" y="683.95" width="10.70" height="3.35" fill="#0b0b0b" stroke="#222" stroke-width="0.7"/>
<rect x="64.50" y="682.72" width="10.70" height="4.58" fill="#7a7a7a" stroke="#222" stroke-width="0.7"/>
<line x1="59.15" y1="683.95" x2="59.15" y2="683.42" stroke="#111" stroke-width="0.9"/>
<line x1="58.05" y1="683.42" x2="60.25" y2="683.42" stroke="#111" stroke-width="0.9"/>
<line x1="69.85" y1="682.72" x2="69.85" y2="682.19" stroke="#111" stroke-width="0.9"/>
<line x1="68.75" y1="682.19" x2="70.95" y2="682.19" stroke="#111" stroke-width="0.9"/>
<text x="67.50" y="692.90" font-size="6.2" text-anchor="end" transform="rotate(-45 67.50 692.90)" fill="#000" stroke="#000" stroke-width="0.3">DMSO</text>
<rect x="91.30" y="638.83" width="10.70" height="48.47" fill="#0b0b0b" stroke="#222" stroke-width="0.7"/>
<rect x="102.00" y="672.50" width="10.70" height="14.80" fill="#7a7a7a" stroke="#222" stroke-width="0.7"/>
<line x1="96.65" y1="638.83" x2="96.65" y2="633.19" stroke="#111" stroke-width="0.9"/>
<line x1="95.55" y1="633.19" x2="97.75" y2="633.19" stroke="#111" stroke-width="0.9"/>
<line x1="107.35" y1="672.50" x2="107.35" y2="670.38" stroke="#111" stroke-width="0.9"/>
<line x1="106.25" y1="670.38" x2="108.45" y2="670.38" stroke="#111" stroke-width="0.9"/>
<text x="107.80" y="692.90" font-size="6.2" text-anchor="end" transform="rotate(-45 107.80 692.90)" fill="#000" stroke="#000" stroke-width="0.3">20 nM Quizartinib</text>
<rect x="128.00" y="658.22" width="10.70" height="29.08" fill="#0b0b0b" stroke="#222" stroke-width="0.7"/>
<rect x="138.70" y="656.98" width="10.70" height="30.31" fill="#7a7a7a" stroke="#222" stroke-width="0.7"/>
<line x1="133.35" y1="658.22" x2="133.35" y2="656.10" stroke="#111" stroke-width="0.9"/>
<line x1="132.25" y1="656.10" x2="134.45" y2="656.10" stroke="#111" stroke-width="0.9"/>
<line x1="144.05" y1="656.98" x2="144.05" y2="652.93" stroke="#111" stroke-width="0.9"/>
<line x1="142.95" y1="652.93" x2="145.15" y2="652.93" stroke="#111" stroke-width="0.9"/>
<text x="144.50" y="692.90" font-size="6.2" text-anchor="end" transform="rotate(-45 144.50 692.90)" fill="#000" stroke="#000" stroke-width="0.3">1 µM Ibrutinib</text>
<rect x="165.80" y="623.85" width="10.70" height="63.45" fill="#0b0b0b" stroke="#222" stroke-width="0.7"/>
<rect x="176.50" y="631.25" width="10.70" height="56.05" fill="#7a7a7a" stroke="#222" stroke-width="0.7"/>
<line x1="171.15" y1="623.85" x2="171.15" y2="620.15" stroke="#111" stroke-width="0.9"/>
<line x1="170.05" y1="620.15" x2="172.25" y2="620.15" stroke="#111" stroke-width="0.9"/>
<line x1="181.85" y1="631.25" x2="181.85" y2="623.85" stroke="#111" stroke-width="0.9"/>
<line x1="180.75" y1="623.85" x2="182.95" y2="623.85" stroke="#111" stroke-width="0.9"/>
<text x="181.00" y="692.90" font-size="6.2" text-anchor="end" transform="rotate(-45 181.00 692.90)" fill="#000" stroke="#000" stroke-width="0.3">20 nM Quizartinib</text>
<text x="181.00" y="703.30" font-size="6.2" text-anchor="end" transform="rotate(-45 181.00 703.30)" fill="#000" stroke="#000" stroke-width="0.3">+1 µM Ibrutinib</text>
<line x1="42.50" y1="603.00" x2="198.80" y2="603.00" stroke="#222" stroke-width="1.2"/>
<text x="118.85" y="600.50" font-size="8.1" text-anchor="middle" fill="#000" stroke="#000" stroke-width="0.35">FFM40</text>
<rect x="47.50" y="610.90" width="2.60" height="2.60" fill="#000"/>
<text x="53.00" y="613.70" font-size="6.5" text-anchor="start" fill="#000" stroke="#000" stroke-width="0.3">- Stroma</text>
<rect x="47.50" y="617.70" width="2.60" height="2.60" fill="#888"/>
<text x="53.00" y="620.10" font-size="6.5" text-anchor="start" fill="#000" stroke="#000" stroke-width="0.3">+ Stroma</text>
<line x1="229.50" y1="608.30" x2="229.50" y2="687.30" stroke="#222" stroke-width="0.9"/>
<line x1="229.10" y1="687.30" x2="379.80" y2="687.30" stroke="#555" stroke-width="1.0"/>
<line x1="226.90" y1="616.80" x2="229.50" y2="616.80" stroke="#222" stroke-width="0.8"/>
<text x="226.70" y="619.10" font-size="6.5" text-anchor="end" fill="#000" stroke="#000" stroke-width="0.4">40</text>
<line x1="226.90" y1="652.05" x2="229.50" y2="652.05" stroke="#222" stroke-width="0.8"/>
<text x="226.70" y="654.35" font-size="6.5" text-anchor="end" fill="#000" stroke="#000" stroke-width="0.4">20</text>
<text x="212.60" y="640.90" font-size="6.5" text-anchor="middle" transform="rotate(-90 212.60 640.90)" fill="#000" stroke="#000" stroke-width="0.3" textLength="41" lengthAdjust="spacingAndGlyphs">Annexin V [%]</text>
<line x1="268.80" y1="687.30" x2="268.80" y2="689.10" stroke="#333" stroke-width="0.8"/>
<line x1="306.30" y1="687.30" x2="306.30" y2="689.10" stroke="#333" stroke-width="0.8"/>
<rect x="237.50" y="683.07" width="10.70" height="4.23" fill="#0b0b0b" stroke="#222" stroke-width="0.7"/>
<rect x="248.20" y="682.19" width="10.70" height="5.11" fill="#7a7a7a" stroke="#222" stroke-width="0.7"/>
<line x1="242.85" y1="683.07" x2="242.85" y2="682.37" stroke="#111" stroke-width="0.9"/>
<line x1="241.75" y1="682.37" x2="243.95" y2="682.37" stroke="#111" stroke-width="0.9"/>
<line x1="253.55" y1="682.19" x2="253.55" y2="681.48" stroke="#111" stroke-width="0.9"/>
<line x1="252.45" y1="681.48" x2="254.65" y2="681.48" stroke="#111" stroke-width="0.9"/>
<text x="251.20" y="692.90" font-size="6.2" text-anchor="end" transform="rotate(-45 251.20 692.90)" fill="#000" stroke="#000" stroke-width="0.3">DMSO</text>
<rect x="275.30" y="647.64" width="10.70" height="39.66" fill="#0b0b0b" stroke="#222" stroke-width="0.7"/>
<rect x="286.00" y="673.20" width="10.70" height="14.10" fill="#7a7a7a" stroke="#222" stroke-width="0.7"/>
<line x1="280.65" y1="647.64" x2="280.65" y2="644.65" stroke="#111" stroke-width="0.9"/>
<line x1="279.55" y1="644.65" x2="281.75" y2="644.65" stroke="#111" stroke-width="0.9"/>
<line x1="291.35" y1="673.20" x2="291.35" y2="672.67" stroke="#111" stroke-width="0.9"/>
<line x1="290.25" y1="672.67" x2="292.45" y2="672.67" stroke="#111" stroke-width="0.9"/>
<text x="291.80" y="692.90" font-size="6.2" text-anchor="end" transform="rotate(-45 291.80 692.90)" fill="#000" stroke="#000" stroke-width="0.3">20 nM Quizartinib</text>
<rect x="312.30" y="666.15" width="10.70" height="21.15" fill="#0b0b0b" stroke="#222" stroke-width="0.7"/>
<rect x="323.00" y="665.27" width="10.70" height="22.03" fill="#7a7a7a" stroke="#222" stroke-width="0.7"/>
<line x1="317.65" y1="666.15" x2="317.65" y2="662.80" stroke="#111" stroke-width="0.9"/>
<line x1="316.55" y1="662.80" x2="318.75" y2="662.80" stroke="#111" stroke-width="0.9"/>
<line x1="328.35" y1="665.27" x2="328.35" y2="664.39" stroke="#111" stroke-width="0.9"/>
<line x1="327.25" y1="664.39" x2="329.45" y2="664.39" stroke="#111" stroke-width="0.9"/>
<text x="328.80" y="692.90" font-size="6.2" text-anchor="end" transform="rotate(-45 328.80 692.90)" fill="#000" stroke="#000" stroke-width="0.3">1 µM Ibrutinib</text>
<rect x="349.30" y="635.13" width="10.70" height="52.17" fill="#0b0b0b" stroke="#222" stroke-width="0.7"/>
<rect x="360.00" y="642.53" width="10.70" height="44.77" fill="#7a7a7a" stroke="#222" stroke-width="0.7"/>
<line x1="354.65" y1="635.13" x2="354.65" y2="628.78" stroke="#111" stroke-width="0.9"/>
<line x1="353.55" y1="628.78" x2="355.75" y2="628.78" stroke="#111" stroke-width="0.9"/>
<line x1="365.35" y1="642.53" x2="365.35" y2="640.06" stroke="#111" stroke-width="0.9"/>
<line x1="364.25" y1="640.06" x2="366.45" y2="640.06" stroke="#111" stroke-width="0.9"/>
<text x="364.50" y="692.90" font-size="6.2" text-anchor="end" transform="rotate(-45 364.50 692.90)" fill="#000" stroke="#000" stroke-width="0.3">20 nM Quizartinib</text>
<text x="364.50" y="703.30" font-size="6.2" text-anchor="end" transform="rotate(-45 364.50 703.30)" fill="#000" stroke="#000" stroke-width="0.3">+1 µM Ibrutinib</text>
<line x1="227.30" y1="603.00" x2="383.80" y2="603.00" stroke="#222" stroke-width="1.2"/>
<text x="303.75" y="600.50" font-size="8.1" text-anchor="middle" fill="#000" stroke="#000" stroke-width="0.35">FFM41</text>
<rect x="232.00" y="610.90" width="2.60" height="2.60" fill="#000"/>
<text x="237.50" y="613.70" font-size="6.5" text-anchor="start" fill="#000" stroke="#000" stroke-width="0.3">- Stroma</text>
<rect x="232.00" y="617.70" width="2.60" height="2.60" fill="#888"/>
<text x="237.50" y="620.10" font-size="6.5" text-anchor="start" fill="#000" stroke="#000" stroke-width="0.3">+ Stroma</text>
<polygon points="107.50,660.00 108.43,661.71 110.35,662.07 109.01,663.49 109.26,665.43 107.50,664.59 105.74,665.43 105.99,663.49 104.65,662.07 106.57,661.71" fill="#000"/>
<polygon points="97.00,622.50 97.93,624.21 99.85,624.57 98.51,625.99 98.76,627.93 97.00,627.09 95.24,627.93 95.49,625.99 94.15,624.57 96.07,624.21" fill="#000"/>
<polygon points="133.40,645.70 134.33,647.41 136.25,647.77 134.91,649.19 135.16,651.13 133.40,650.29 131.64,651.13 131.89,649.19 130.55,647.77 132.47,647.41" fill="#000"/>
<polygon points="144.20,645.70 145.13,647.41 147.05,647.77 145.71,649.19 145.96,651.13 144.20,650.29 142.44,651.13 142.69,649.19 141.35,647.77 143.27,647.41" fill="#000"/>
<polygon points="171.20,610.00 172.13,611.71 174.05,612.07 172.71,613.49 172.96,615.43 171.20,614.59 169.44,615.43 169.69,613.49 168.35,612.07 170.27,611.71" fill="#000"/>
<polygon points="182.10,613.70 183.03,615.41 184.95,615.77 183.61,617.19 183.86,619.13 182.10,618.29 180.34,619.13 180.59,617.19 179.25,615.77 181.17,615.41" fill="#000"/>
<polygon points="280.70,634.00 281.63,635.71 283.55,636.07 282.21,637.49 282.46,639.43 280.70,638.59 278.94,639.43 279.19,637.49 277.85,636.07 279.77,635.71" fill="#000"/>
<polygon points="317.50,653.30 318.43,655.01 320.35,655.37 319.01,656.79 319.26,658.73 317.50,657.89 315.74,658.73 315.99,656.79 314.65,655.37 316.57,655.01" fill="#000"/>
<polygon points="328.10,653.30 329.03,655.01 330.95,655.37 329.61,656.79 329.86,658.73 328.10,657.89 326.34,658.73 326.59,656.79 325.25,655.37 327.17,655.01" fill="#000"/>
<polygon points="354.60,618.30 355.53,620.01 357.45,620.37 356.11,621.79 356.36,623.73 354.60,622.89 352.84,623.73 353.09,621.79 351.75,620.37 353.67,620.01" fill="#000"/>
<polygon points="365.40,629.00 366.33,630.71 368.25,631.07 366.91,632.49 367.16,634.43 365.40,633.59 363.64,634.43 363.89,632.49 362.55,631.07 364.47,630.71" fill="#000"/>
<text x="-0.30" y="605.00" font-size="13.8" text-anchor="start" font-weight="bold" fill="#000" stroke="#000" stroke-width="0.7">D</text>
<text x="400.00" y="606.20" font-size="13.0" text-anchor="start" font-weight="bold" fill="#000" stroke="#000" stroke-width="0.6">E</text>
<line x1="421.40" y1="603.70" x2="498.80" y2="603.70" stroke="#222" stroke-width="1.2"/>
<text x="460.80" y="601.40" font-size="8.1" text-anchor="middle" fill="#000" stroke="#000" stroke-width="0.35">FFM40</text>
<text x="448.60" y="628.60" font-size="6.0" text-anchor="end" transform="rotate(-42 448.60 628.60)" fill="#000" stroke="#000" stroke-width="0.3">DMSO</text>
<text x="495.60" y="609.80" font-size="6.0" text-anchor="end" transform="rotate(-42 495.60 609.80)" fill="#000" stroke="#000" stroke-width="0.3">20 nM Quizartinib</text>
<text x="513.50" y="609.00" font-size="6.0" text-anchor="end" transform="rotate(-42 513.50 609.00)" fill="#000" stroke="#000" stroke-width="0.3">20 nM Quizartinib</text>
<text x="517.60" y="615.30" font-size="6.0" text-anchor="end" transform="rotate(-42 517.60 615.30)" fill="#000" stroke="#000" stroke-width="0.3">+1 µM Ibrutinib</text>
<rect x="429.00" y="641.90" width="12.80" height="2.20" fill="#8a8a8a" stroke="#555" stroke-width="0.5"/>
<rect x="453.30" y="641.90" width="12.80" height="2.20" fill="#8a8a8a" stroke="#555" stroke-width="0.5"/>
<rect x="478.00" y="641.90" width="11.90" height="2.20" fill="#8a8a8a" stroke="#555" stroke-width="0.5"/>
<rect x="422.00" y="644.60" width="76.80" height="20.60" fill="#fdfdfd" stroke="#111" stroke-width="1.2"/>
<rect x="425.00" y="652.80" width="21.40" height="6.00" rx="3.00" fill="#d4d4d4" opacity="1.0" filter="url(#blur1)"/>
<rect x="452.20" y="652.80" width="16.00" height="6.00" rx="3.00" fill="#d8d8d8" opacity="1.0" filter="url(#blur1)"/>
<rect x="474.40" y="653.00" width="17.00" height="6.00" rx="3.00" fill="#efefef" opacity="1.0" filter="url(#blur1)"/>
<rect x="425.60" y="651.75" width="20.20" height="3.10" rx="1.55" fill="#111" opacity="1.0" filter="url(#blur1)"/>
<rect x="425.60" y="656.75" width="20.20" height="3.10" rx="1.55" fill="#0c0c0c" opacity="1.0" filter="url(#blur1)"/>
<rect x="452.60" y="651.95" width="15.00" height="2.90" rx="1.45" fill="#222" opacity="1.0" filter="url(#blur1)"/>
<rect x="452.60" y="656.95" width="15.00" height="2.90" rx="1.45" fill="#1a1a1a" opacity="1.0" filter="url(#blur1)"/>
<rect x="474.80" y="652.30" width="16.20" height="2.80" rx="1.40" fill="#c0c0c0" opacity="1.0" filter="url(#blur1)"/>
<rect x="474.80" y="657.10" width="16.20" height="2.80" rx="1.40" fill="#8a8a8a" opacity="1.0" filter="url(#blur1)"/>
<rect x="422.00" y="676.80" width="76.80" height="20.00" fill="#f0f0f0" stroke="#111" stroke-width="1.2"/>
<rect x="425.00" y="683.70" width="21.40" height="6.00" rx="3.00" fill="#c4c4c4" opacity="1.0" filter="url(#blur1)"/>
<rect x="452.20" y="683.70" width="16.00" height="6.00" rx="3.00" fill="#b8b8b8" opacity="1.0" filter="url(#blur1)"/>
<rect x="474.40" y="683.70" width="17.00" height="6.00" rx="3.00" fill="#c0c0c0" opacity="1.0" filter="url(#blur1)"/>
<rect x="425.60" y="682.85" width="20.20" height="2.90" rx="1.45" fill="#4a4a4a" opacity="1.0" filter="url(#blur1)"/>
<rect x="425.60" y="687.60" width="20.20" height="3.00" rx="1.50" fill="#262626" opacity="1.0" filter="url(#blur1)"/>
<rect x="452.60" y="682.75" width="15.00" height="3.10" rx="1.55" fill="#2a2a2a" opacity="1.0" filter="url(#blur1)"/>
<rect x="452.60" y="687.50" width="15.00" height="3.20" rx="1.60" fill="#181818" opacity="1.0" filter="url(#blur1)"/>
<rect x="474.80" y="682.85" width="16.20" height="2.90" rx="1.45" fill="#3c3c3c" opacity="1.0" filter="url(#blur1)"/>
<rect x="474.80" y="687.60" width="16.20" height="3.00" rx="1.50" fill="#222" opacity="1.0" filter="url(#blur1)"/>
<text x="412.80" y="663.40" font-size="7.6" text-anchor="end" fill="#000" stroke="#000" stroke-width="0.3">40</text>
<line x1="415.50" y1="660.60" x2="419.50" y2="660.60" stroke="#111" stroke-width="1.1"/>
<text x="412.80" y="693.40" font-size="7.6" text-anchor="end" fill="#000" stroke="#000" stroke-width="0.3">40</text>
<line x1="415.50" y1="690.60" x2="419.50" y2="690.60" stroke="#111" stroke-width="1.1"/>
<text x="500.00" y="657.50" font-size="7.6" text-anchor="start" fill="#000" stroke="#000" stroke-width="0.3">pERK</text>
<text x="502.00" y="689.20" font-size="7.2" text-anchor="start" fill="#000" stroke="#000" stroke-width="0.3">ERK</text>
<line x1="422.00" y1="670.80" x2="440.30" y2="670.80" stroke="#222" stroke-width="1.2"/>
<line x1="480.60" y1="670.80" x2="497.80" y2="670.80" stroke="#222" stroke-width="1.2"/>
<text x="460.00" y="673.50" font-size="7.2" text-anchor="middle" fill="#000" stroke="#000" stroke-width="0.3">α-pERK</text>
<line x1="422.00" y1="701.70" x2="440.30" y2="701.70" stroke="#222" stroke-width="1.2"/>
<line x1="480.60" y1="701.70" x2="497.80" y2="701.70" stroke="#222" stroke-width="1.2"/>
<text x="459.00" y="704.40" font-size="7.2" text-anchor="middle" fill="#000" stroke="#000" stroke-width="0.3">α-ERK</text>
</g></svg></body></html>
